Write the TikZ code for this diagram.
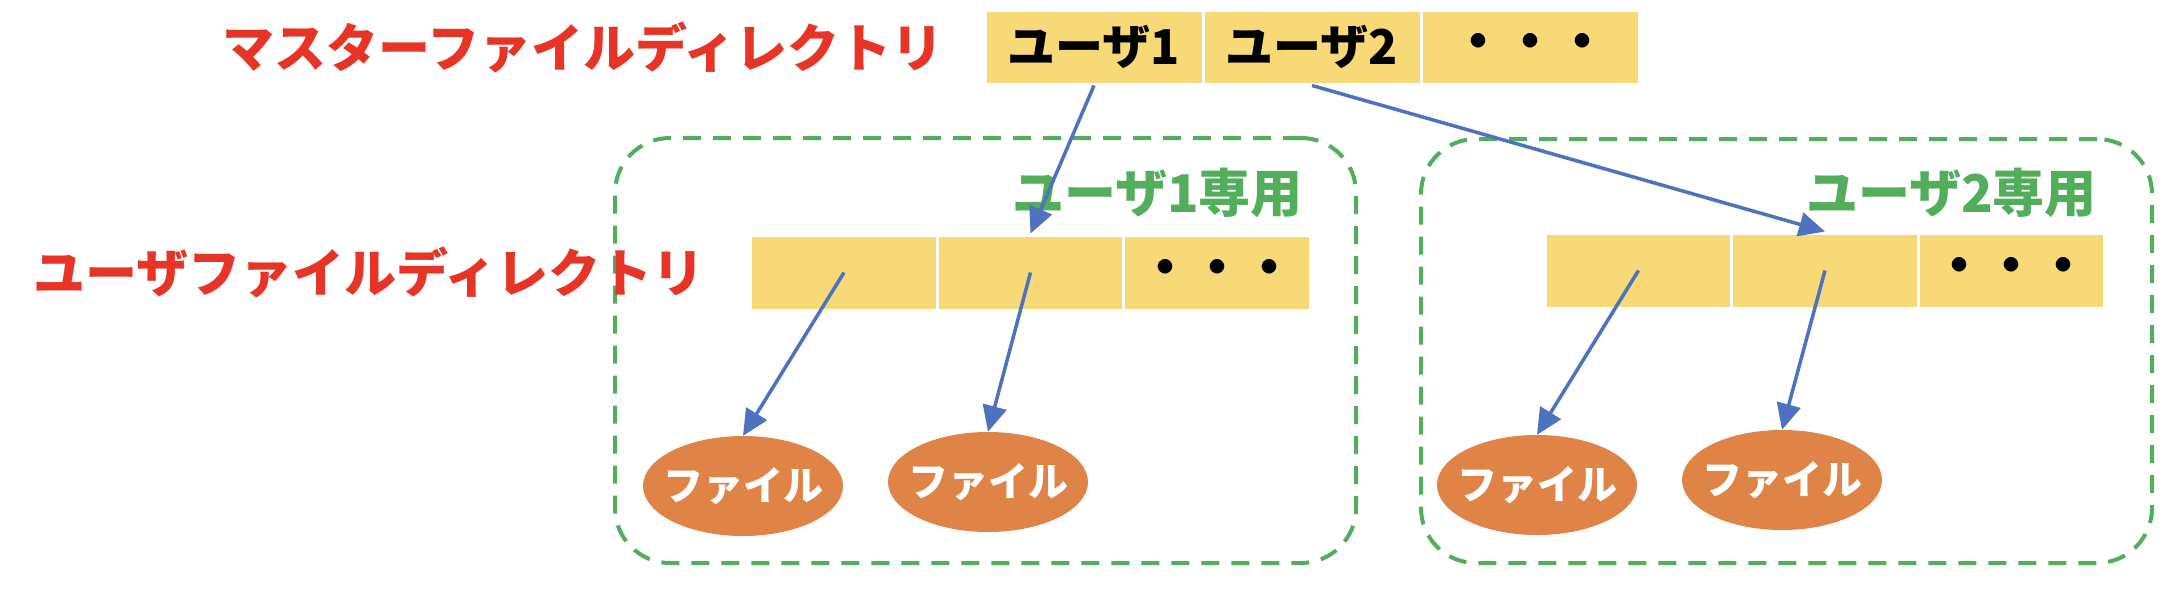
\documentclass[tikz,border=0pt]{standalone}
\usepackage{fontspec}
\setmainfont{Noto Sans CJK JP}
\usetikzlibrary{arrows.meta,shapes.geometric}
\definecolor{zellgelb}{HTML}{F8D978}
\definecolor{dateiorange}{HTML}{DF8446}
\definecolor{rahmengruen}{HTML}{52AE5B}
\definecolor{textrot}{HTML}{E73426}
\definecolor{pfeilblau}{HTML}{4E72BF}
\begin{document}
\begin{tikzpicture}[x=1pt, y=-1pt,
		zelle/.style={rectangle, fill=zellgelb, draw=white, line width=3pt, inner sep=0pt, font=\fontsize{48}{56}\selectfont\bfseries},
		mzelle/.style={zelle, minimum width=218pt, minimum height=74pt},
		uzelle/.style={zelle, minimum width=186.5pt, minimum height=75pt},
		punkte/.style={font=\fontsize{52}{60}\selectfont\bfseries},
		datei/.style={ellipse, fill=dateiorange, minimum width=200pt, minimum height=100pt, inner xsep=-12pt, inner ysep=0pt, text=white, font=\fontsize{40}{48}\selectfont\bfseries},
		titel/.style={anchor=east, inner sep=0pt, text=textrot, font=\fontsize{52}{60}\selectfont\bfseries},
		gruppe/.style={rectangle, draw=rahmengruen, line width=4pt, dash pattern=on 18pt off 12pt, rounded corners=55pt},
		gruppentitel/.style={anchor=east, inner sep=0pt, text=rahmengruen, font=\fontsize{52}{60}\selectfont\bfseries},
		pfeil/.style={draw=pfeilblau, line width=3.5pt, -{Triangle[length=26pt, width=24pt]}}]
				\useasboundingbox (0,0) rectangle (2180,590);
				
				% Bereiche der Benutzer
				\draw (985.5,350.5) node[gruppe, minimum width=741pt, minimum height=425pt] (G1) {};
				\draw (1786.5,351) node[gruppe, minimum width=731pt, minimum height=424pt] (G2) {};
				\draw (1303,193) node[gruppentitel] (G1Titel) {ユーザ1専用};
				\draw (2097,193) node[gruppentitel] (G2Titel) {ユーザ2専用};
				
				% Masterverzeichnis
				\draw (944,47) node[titel] (MTitel) {マスターファイルディレクトリ};
				\draw (1094,47) node[mzelle] (M1) {ユーザ1};
				\draw (1312,47) node[mzelle] (M2) {ユーザ2};
				\draw (1530,47) node[mzelle, punkte] (M3) {・・・};
				
				% Benutzerverzeichnisse
				\draw (705,272) node[titel] (UTitel) {ユーザファイルディレクトリ};
				\draw (844,272.5) node[uzelle] (U1a) {};
				\draw (1030.5,272.5) node[uzelle] (U1b) {};
				\draw (1217,272.5) node[uzelle, punkte] (U1c) {・・・};
				\draw (1638.5,270.5) node[uzelle] (U2a) {};
				\draw (1825,270.5) node[uzelle] (U2b) {};
				\draw (2011.5,270.5) node[uzelle, punkte] (U2c) {・・・};
				
				% Dateien
				\draw (743,486) node[datei] (D1) {ファイル};
				\draw (988,482) node[datei] (D2) {ファイル};
				\draw (1537,485) node[datei] (D3) {ファイル};
				\draw (1782,480) node[datei] (D4) {ファイル};
				
				% Pfeile
				\draw[pfeil] (M1.south) -- (U1b.north);
				\draw[pfeil] (M2.south) -- (U2b.north);
				\draw[pfeil] (U1a.center) -- (D1.north);
				\draw[pfeil] (U1b.center) -- (D2.north);
				\draw[pfeil] (U2a.center) -- (D3.north);
				\draw[pfeil] (U2b.center) -- (D4.north);
			\end{tikzpicture}
\end{document}
